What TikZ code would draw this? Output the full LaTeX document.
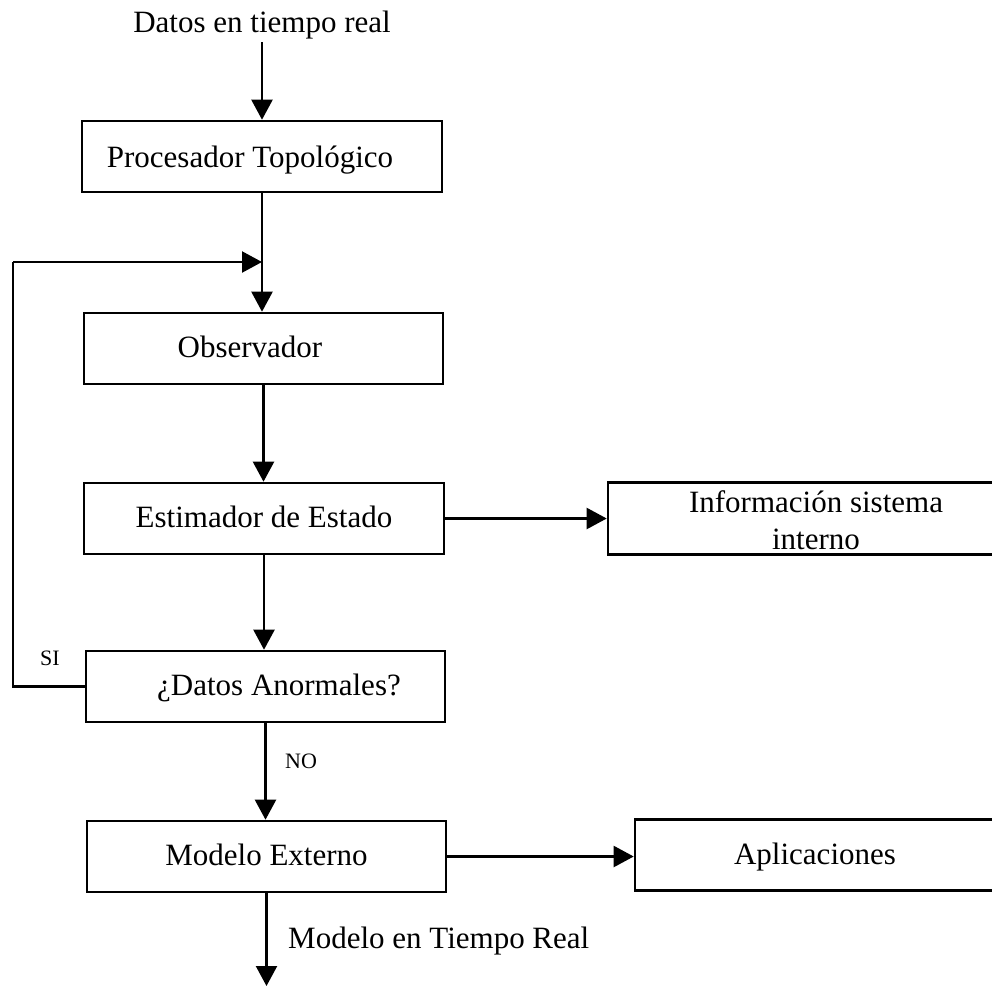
\documentclass[tikz,border=0pt]{standalone}
\usepackage{fontspec}
\setmainfont{Liberation Serif}
\usetikzlibrary{arrows.meta}
\begin{document}
\begin{tikzpicture}[x=1pt,y=-1pt,
  box/.style={draw,line width=2.6pt,minimum height=71pt,inner sep=0pt,
    text height=23pt,text depth=5pt,
    font=\fontsize{31}{37}\selectfont},
  lbl/.style={inner sep=0pt,font=\fontsize{31}{37}\selectfont},
  small/.style={inner sep=0pt,font=\fontsize{22}{26}\selectfont},
  arr/.style={line width=2.2pt,-{Triangle[length=20pt,width=21pt]}},
  ln/.style={line width=2.2pt}]
\useasboundingbox (0,0) rectangle (992,986);
\node[lbl,anchor=base] (src) at (262,32) {Datos en tiempo real};
\node[box,minimum width=360pt,text height=25pt,text depth=3pt] (proc) at (262,156.5) {\hspace*{-24pt}Procesador Topológico};
\node[box,minimum width=359pt] (obs) at (263.5,348.5) {\hspace*{-27pt}Observador};
\node[box,minimum width=360pt] (est) at (264,518.5) {Estimador de Estado};
\node[box,minimum width=416pt,minimum height=72pt] (info) at (816,518.5) {};
\node[lbl,anchor=base] (infoA) at (816,512) {Información sistema};
\node[lbl,anchor=base] (infoB) at (816,549) {interno};
\node[box,minimum width=359pt] (anorm) at (265.5,686.5) {\hspace*{27pt}¿Datos Anormales?};
\node[box,minimum width=359pt] (modext) at (266.5,856.5) {Modelo Externo};
\node[box,minimum width=360pt] (apl) at (815,855) {Aplicaciones};
\coordinate (srcend) at (262,42);
\coordinate (join) at (262,262);
\coordinate (loopA) at (13,686.5);
\coordinate (loopB) at (13,262);
\coordinate (outend) at (266.5,986);
\node[small,anchor=center] (si) at (50,658) {SI};
\node[small,anchor=west] (no) at (285,761) {NO};
\node[lbl,anchor=base west] (rt) at (288,948) {Modelo en Tiempo Real};
\draw[arr] (srcend) -- (proc.north);
\draw[arr] (proc.south) -- (obs.north -| proc.south);
\draw[ln] (anorm.west) -- (loopA) -- (loopB);
\draw[arr] (loopB) -- (join);
\draw[arr] (obs.south) -- (est.north -| obs.south);
\draw[arr] (est.south) -- (anorm.north -| est.south);
\draw[arr] (anorm.south) -- (modext.north -| anorm.south);
\draw[arr] (modext.south) -- (outend);
\draw[arr] (est.east) -- (info.west);
\draw[arr] (modext.east) -- (apl.west |- modext.east);
\end{tikzpicture}
\end{document}
